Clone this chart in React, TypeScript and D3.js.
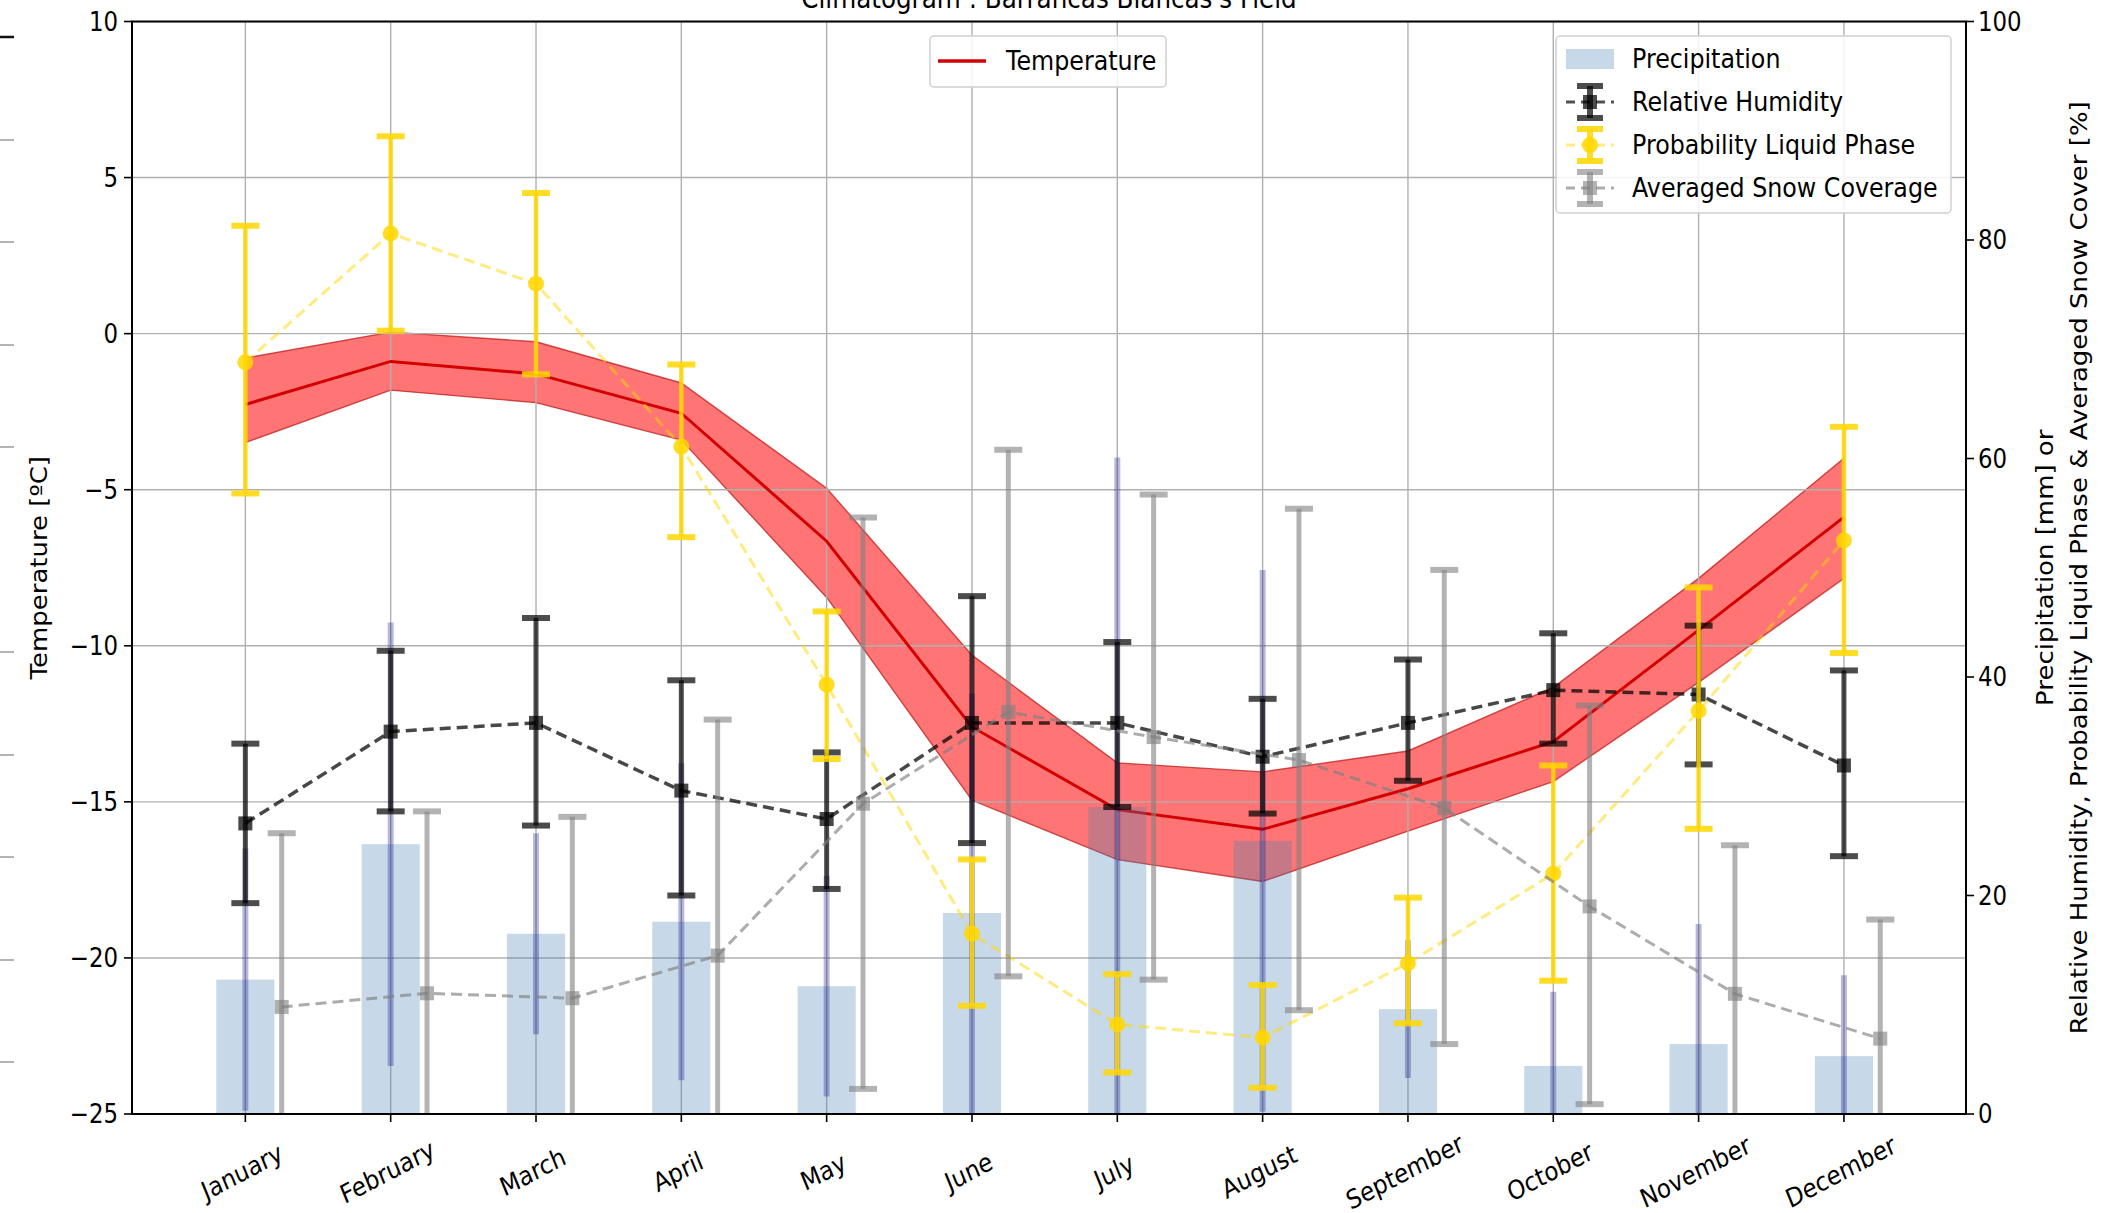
import React from "react"
import * as d3 from "d3"

// ---- data ----
const months = ["January", "February", "March", "April", "May", "June", "July", "August", "September", "October", "November", "December"]

// temperature [ºC] (left axis)
const tempMean = [-2.27, -0.89, -1.29, -2.55, -6.65, -12.6, -15.25, -15.88, -14.58, -13.07, -9.5, -5.88]
const tempHigh = [-0.78, 0.05, -0.26, -1.58, -4.95, -10.3, -13.75, -14.04, -13.37, -11.33, -7.84, -3.99]
const tempLow = [-3.49, -1.81, -2.21, -3.41, -8.45, -14.95, -16.85, -17.55, -15.94, -14.35, -11.17, -7.84]

// right axis [%] / [mm]
const precip = [12.3, 24.7, 16.5, 17.6, 11.7, 18.4, 28.1, 25.0, 9.6, 4.4, 6.4, 5.3]
const precipHigh = [24.3, 45.0, 25.7, 32.1, 21.8, 38.5, 60.1, 49.8, 15.9, 11.2, 17.4, 12.7]
const precipLow = [0.3, 4.4, 7.3, 3.1, 1.6, -1.7, -4.1, 0.2, 3.3, -2.4, -4.6, -2.1]

const humidity = [26.6, 35.0, 35.8, 29.6, 27.0, 35.8, 35.8, 32.7, 35.8, 38.8, 38.4, 31.9]
const humidityHigh = [33.9, 42.4, 45.4, 39.7, 33.1, 47.4, 43.2, 38.0, 41.6, 44.0, 44.7, 40.6]
const humidityLow = [19.3, 27.7, 26.4, 20.0, 20.6, 24.8, 28.1, 27.5, 30.5, 33.9, 32.0, 23.6]

const liquid = [68.8, 80.6, 76.0, 61.1, 39.3, 16.5, 8.2, 7.0, 13.8, 22.0, 36.9, 52.5]
const liquidHigh = [81.3, 89.5, 84.3, 68.6, 46.0, 23.3, 12.8, 11.8, 19.8, 31.9, 48.2, 62.9]
const liquidLow = [56.8, 71.7, 67.7, 52.8, 32.5, 9.9, 3.8, 2.4, 8.3, 12.2, 26.1, 42.2]

const snow = [9.8, 11.05, 10.6, 14.5, 28.4, 36.8, 34.5, 32.4, 28.0, 19.0, 11.0, 6.9]
const snowHigh = [25.7, 27.7, 27.2, 36.1, 54.6, 60.8, 56.7, 55.4, 49.8, 37.4, 24.6, 17.8]
const snowLow = [-6.1, -5.6, -6.0, -7.1, 2.3, 12.6, 12.3, 9.5, 6.4, 0.9, -2.6, -4.0]

const tempTicks = [10, 5, 0, -5, -10, -15, -20, -25]
const rightTicks = [0, 20, 40, 60, 80, 100]

const W = 2109
const H = 1213
const FONT = "DejaVu Sans"
const SX = 0.88 // the picture's text is a little narrow

const L = 132, R = 1966, T = 21.5, B = 1114

function Txt({ x, y, rot = 0, anchor = "middle", size = 27, fill = "#000", children }) {
    return (
        <text transform={`translate(${x},${y}) scale(${SX},1) rotate(${rot})`}
            textAnchor={anchor} fontSize={size} fontFamily={FONT} fill={fill}>
            {children}
        </text>
    )
}

function ErrBars({ xs, lo, hi, color, opacity, width, cap, capW }) {
    return (
        <g stroke={color} strokeOpacity={opacity} fill="none">
            {xs.map((x, i) => (
                <g key={i}>
                    <line x1={x} x2={x} y1={lo[i]} y2={hi[i]} strokeWidth={width} />
                    {cap > 0 && <line x1={x - capW / 2} x2={x + capW / 2} y1={lo[i]} y2={lo[i]} strokeWidth={cap} />}
                    {cap > 0 && <line x1={x - capW / 2} x2={x + capW / 2} y1={hi[i]} y2={hi[i]} strokeWidth={cap} />}
                </g>
            ))}
        </g>
    )
}

export default function App() {
    const x = d3.scaleLinear().domain([-0.78, 11.84]).range([L, R])
    const yT = d3.scaleLinear().domain([-25, 10]).range([B, T])
    const yR = d3.scaleLinear().domain([0, 100]).range([B, T])
    const idx = d3.range(months.length)

    const band = d3.area<number>()
        .x(i => x(i))
        .y0(i => yT(tempLow[i]))
        .y1(i => yT(tempHigh[i]))
    const tLine = d3.line<number>().x(i => x(i)).y(i => yT(tempMean[i]))

    const rLine = (vals, off) => d3.line<number>().x(i => x(i + off)).y(i => yR(vals[i]))(idx)

    const barW = x(0.4) - x(0)
    const capW = 28

    const xsMain = idx.map(i => x(i))
    const xsSnow = idx.map(i => x(i + 0.25))

    // legend rows
    const lgX = 1556, lgY = 36
    const rows = [59, 102, 145, 188]
    const hx = 1590

    const legendErr = (cy, color, op, dashOp, lineColor, marker) => (
        <g>
            <line x1={1566} x2={1614} y1={cy} y2={cy} stroke={lineColor} strokeOpacity={dashOp}
                strokeWidth={3} strokeDasharray="9,6" />
            <line x1={hx} x2={hx} y1={cy - 16} y2={cy + 16} stroke={color} strokeOpacity={op} strokeWidth={6} />
            <line x1={hx - 13} x2={hx + 13} y1={cy - 16} y2={cy - 16} stroke={color} strokeOpacity={op} strokeWidth={6} />
            <line x1={hx - 13} x2={hx + 13} y1={cy + 16} y2={cy + 16} stroke={color} strokeOpacity={op} strokeWidth={6} />
            {marker === "o"
                ? <circle cx={hx} cy={cy} r={8} fill={color} fillOpacity={op} />
                : <rect x={hx - 7} y={cy - 7} width={14} height={14} fill={color} fillOpacity={op} />}
        </g>
    )

    return (
        <svg width={W} height={H} style={{ position: "absolute", left: 0, top: 0, background: "#fff" }}>
            <defs>
                <clipPath id="plot">
                    <rect x={L} y={T} width={R - L} height={B - T} />
                </clipPath>
            </defs>
            <rect x={0} y={0} width={W} height={H} fill="#fff" />

            {/* bits of another window showing at the left edge */}
            <g stroke="#9a9a9a" strokeWidth={1.5}>
                {[140, 242, 345, 447, 652, 755, 857, 960, 1062].map(v => (
                    <line key={v} x1={0} x2={14} y1={v} y2={v} />
                ))}
            </g>
            <line x1={0} x2={14} y1={37} y2={37} stroke="#111" strokeWidth={2.5} />

            {/* title, cut off at the top as in the source */}
            <Txt x={1049} y={8} size={28}>Climatogram : Barrancas Blancas's Field</Txt>

            {/* left axes: temperature band, grid, line */}
            <g clipPath="url(#plot)">
                <path d={band(idx)} fill="#ff0000" fillOpacity={0.54} stroke="#b11" strokeOpacity={0.7} strokeWidth={1.4} />
                <g stroke="#b0b0b0" strokeWidth={1.4}>
                    {tempTicks.map(t => <line key={t} x1={L} x2={R} y1={yT(t)} y2={yT(t)} />)}
                    {idx.map(i => <line key={i} x1={x(i)} x2={x(i)} y1={T} y2={B} />)}
                </g>
                <path d={tLine(idx)} fill="none" stroke="#d40000" strokeWidth={3} />
            </g>

            {/* right axes */}
            <g clipPath="url(#plot)">
                {idx.map(i => (
                    <rect key={i} x={x(i) - barW / 2} y={yR(precip[i])} width={barW}
                        height={yR(0) - yR(precip[i])} fill="steelblue" fillOpacity={0.3} />
                ))}
                <ErrBars xs={xsMain} lo={precipLow.map(yR)} hi={precipHigh.map(yR)}
                    color="navy" opacity={0.28} width={6} cap={0} capW={0} />

                {/* relative humidity */}
                <path d={rLine(humidity, 0)} fill="none" stroke="#000" strokeOpacity={0.72} strokeWidth={3.5} strokeDasharray="11,6" />
                <ErrBars xs={xsMain} lo={humidityLow.map(yR)} hi={humidityHigh.map(yR)}
                    color="#000" opacity={0.7} width={5} cap={6} capW={capW} />
                {idx.map(i => (
                    <rect key={i} x={x(i) - 7} y={yR(humidity[i]) - 7} width={14} height={14} fill="#000" fillOpacity={0.72} />
                ))}

                {/* probability of liquid phase */}
                <path d={rLine(liquid, 0)} fill="none" stroke="gold" strokeOpacity={0.5} strokeWidth={3} strokeDasharray="11,6" />
                <ErrBars xs={xsMain} lo={liquidLow.map(yR)} hi={liquidHigh.map(yR)}
                    color="gold" opacity={0.85} width={4.5} cap={6} capW={capW} />
                {idx.map(i => (
                    <circle key={i} cx={x(i)} cy={yR(liquid[i])} r={8} fill="gold" fillOpacity={0.85} />
                ))}

                {/* averaged snow coverage */}
                <path d={rLine(snow, 0.25)} fill="none" stroke="gray" strokeOpacity={0.65} strokeWidth={3} strokeDasharray="11,6" />
                <ErrBars xs={xsSnow} lo={snowLow.map(yR)} hi={snowHigh.map(yR)}
                    color="gray" opacity={0.6} width={5} cap={6} capW={capW} />
                {idx.map(i => (
                    <rect key={i} x={x(i + 0.25) - 7} y={yR(snow[i]) - 7} width={14} height={14} fill="gray" fillOpacity={0.62} />
                ))}
            </g>

            {/* frame and ticks */}
            <rect x={L} y={T} width={R - L} height={B - T} fill="none" stroke="#000" strokeWidth={2} />
            <g stroke="#000" strokeWidth={1.6}>
                {tempTicks.map(t => <line key={t} x1={L - 8} x2={L} y1={yT(t)} y2={yT(t)} />)}
                {rightTicks.map(t => <line key={t} x1={R} x2={R + 8} y1={yR(t)} y2={yR(t)} />)}
                {idx.map(i => <line key={i} x1={x(i)} x2={x(i)} y1={B} y2={B + 8} />)}
            </g>
            {tempTicks.map(t => (
                <Txt key={t} x={L - 14} y={yT(t) + 9} anchor="end" size={26}>{d3.format("d")(t).replace("-", "\u2212")}</Txt>
            ))}
            {rightTicks.map(t => (
                <Txt key={t} x={R + 12} y={yR(t) + 9} anchor="start" size={26}>{t}</Txt>
            ))}
            {months.map((m, i) => (
                <Txt key={m} x={x(i)} y={B + 66} rot={-25} size={26}>{m}</Txt>
            ))}

            <Txt x={47} y={(T + B) / 2} rot={-90} size={26}>Temperature [ºC]</Txt>
            <Txt x={2053} y={(T + B) / 2} rot={-90} size={26}>Precipitation [mm] or</Txt>
            <Txt x={2087} y={(T + B) / 2} rot={-90} size={26}>Relative Humidity, Probability Liquid Phase &amp; Averaged Snow Cover [%]</Txt>

            {/* legend: temperature */}
            <rect x={930} y={36} width={236} height={51} rx={4} fill="#fff" fillOpacity={0.85} stroke="#d0d0d0" strokeWidth={1.5} />
            <line x1={938} x2={986} y1={61} y2={61} stroke="#d40000" strokeWidth={3.5} />
            <Txt x={1006} y={70} anchor="start" size={27}>Temperature</Txt>

            {/* legend: right axis series */}
            <rect x={lgX} y={lgY} width={395} height={177} rx={4} fill="#fff" fillOpacity={0.85} stroke="#d0d0d0" strokeWidth={1.5} />
            <rect x={1566} y={rows[0] - 10} width={48} height={20} fill="steelblue" fillOpacity={0.3} />
            {legendErr(rows[1], "#000", 0.7, 0.68, "#000", "s")}
            {legendErr(rows[2], "gold", 0.85, 0.5, "gold", "o")}
            {legendErr(rows[3], "gray", 0.6, 0.65, "gray", "s")}
            {["Precipitation", "Relative Humidity", "Probability Liquid Phase", "Averaged Snow Coverage"].map((s, k) => (
                <Txt key={s} x={1632} y={rows[k] + 9} anchor="start" size={27}>{s}</Txt>
            ))}
        </svg>
    )
}
